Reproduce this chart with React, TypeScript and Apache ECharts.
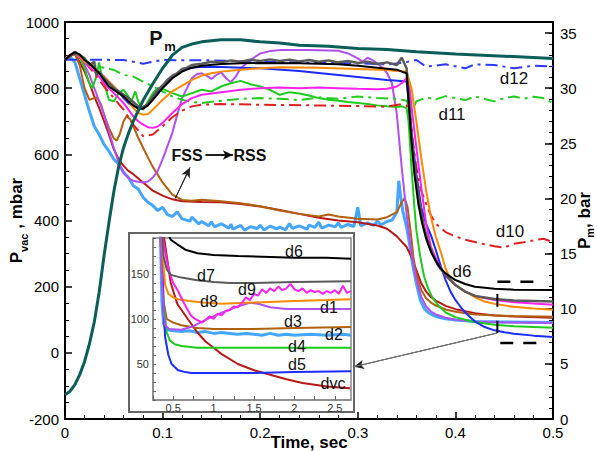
import React, { useEffect, useRef } from 'react';
import * as echarts from 'echarts';

const FONT = 'Liberation Sans, Arial, Helvetica, sans-serif';

// ---- axes ----
const timeRange = [0, 0.5];
const pvacRange = [-200, 1000];
const pmRange = [0, 36];
const insetTimeRange = [0.25, 2.7];
const insetPvacRange = [10, 190];

// ---- main chart: Pm (bar, right axis) ----
const pm = [[0,2.2],[0.005,2.5],[0.01,3.1],[0.015,4.0],[0.02,5.2],[0.025,6.8],[0.03,8.8],[0.035,11.5],[0.04,14.8],[0.045,17.8],[0.05,20.6],[0.055,22.9],[0.06,24.6],[0.065,25.9],[0.07,27.0],[0.08,28.9],[0.09,30.4],[0.1,31.8],[0.11,33.0],[0.12,33.7],[0.13,34.0],[0.14,34.2],[0.16,34.4],[0.18,34.4],[0.2,34.2],[0.22,34.1],[0.24,33.9],[0.27,33.8],[0.3,33.6],[0.33,33.5],[0.36,33.3],[0.4,33.1],[0.45,32.9],[0.5,32.7]];

// ---- main chart: Pvac (mbar) ----
const d12 = [[0,886],[0.03,886],[0.06,885],[0.07,880],[0.08,874],[0.09,880],[0.1,885],[0.15,884],[0.2,880],[0.25,877],[0.3,875],[0.33,872],[0.345,876],[0.36,885],[0.37,865],[0.39,872],[0.41,860],[0.42,872],[0.44,870],[0.46,860],[0.48,868],[0.5,866]];
const d11 = [[0,886],[0.01,905],[0.02,885],[0.03,866],[0.04,862],[0.05,855],[0.06,840],[0.07,835],[0.08,820],[0.09,805],[0.1,790],[0.11,775],[0.12,765],[0.13,758],[0.14,755],[0.16,762],[0.18,768],[0.2,770],[0.22,768],[0.24,764],[0.26,772],[0.28,768],[0.3,775],[0.32,770],[0.34,768],[0.35,762],[0.355,728],[0.36,760],[0.37,772],[0.38,766],[0.39,776],[0.4,770],[0.41,764],[0.42,775],[0.43,767],[0.44,760],[0.45,770],[0.46,775],[0.47,768],[0.48,774],[0.49,770],[0.5,755]];
const d10 = [[0,886],[0.01,905],[0.02,880],[0.03,845],[0.04,805],[0.05,770],[0.06,735],[0.07,690],[0.08,655],[0.09,660],[0.1,685],[0.11,712],[0.12,732],[0.13,745],[0.14,750],[0.16,752],[0.2,750],[0.25,748],[0.3,746],[0.33,744],[0.345,752],[0.35,748],[0.353,730],[0.356,650],[0.36,560],[0.365,490],[0.37,450],[0.375,415],[0.38,390],[0.39,365],[0.4,352],[0.41,342],[0.42,335],[0.43,328],[0.44,322],[0.45,318],[0.46,330],[0.47,334],[0.48,340],[0.49,345],[0.5,335]];
const d6 = [[0,885],[0.005,900],[0.01,908],[0.015,902],[0.02,885],[0.025,875],[0.03,860],[0.035,845],[0.04,825],[0.045,805],[0.05,795],[0.055,785],[0.06,775],[0.065,760],[0.07,748],[0.075,738],[0.08,738],[0.085,748],[0.09,765],[0.1,800],[0.11,830],[0.12,850],[0.13,862],[0.14,868],[0.16,873],[0.18,875],[0.2,876],[0.24,875],[0.28,872],[0.3,868],[0.32,862],[0.34,856],[0.345,850],[0.35,845],[0.352,760],[0.355,640],[0.358,540],[0.362,450],[0.366,390],[0.37,345],[0.375,305],[0.38,278],[0.385,255],[0.39,240],[0.4,220],[0.41,208],[0.42,200],[0.44,194],[0.46,191],[0.5,190]];
const d7 = [[0,885],[0.005,895],[0.01,910],[0.015,900],[0.02,890],[0.025,870],[0.03,880],[0.032,840],[0.035,850],[0.04,830],[0.045,815],[0.05,800],[0.055,790],[0.06,780],[0.065,770],[0.07,758],[0.075,745],[0.08,742],[0.085,752],[0.09,775],[0.095,795],[0.1,808],[0.105,825],[0.11,838],[0.115,845],[0.12,858],[0.125,862],[0.13,870],[0.14,874],[0.15,880],[0.16,878],[0.17,884],[0.18,880],[0.19,886],[0.2,882],[0.21,887],[0.22,882],[0.23,886],[0.24,881],[0.25,885],[0.26,880],[0.27,884],[0.28,878],[0.29,882],[0.3,876],[0.31,880],[0.32,873],[0.33,878],[0.34,870],[0.345,892],[0.35,860],[0.353,740],[0.356,620],[0.36,520],[0.364,440],[0.368,380],[0.372,335],[0.377,295],[0.382,265],[0.39,235],[0.4,205],[0.41,185],[0.42,172],[0.44,163],[0.46,158],[0.5,155]];
const d8 = [[0,885],[0.005,900],[0.01,908],[0.015,898],[0.02,880],[0.03,860],[0.04,835],[0.05,805],[0.06,775],[0.065,760],[0.07,740],[0.075,725],[0.08,720],[0.085,722],[0.09,735],[0.1,765],[0.11,790],[0.12,808],[0.13,825],[0.14,838],[0.15,845],[0.16,850],[0.18,856],[0.2,860],[0.22,863],[0.26,862],[0.3,858],[0.33,855],[0.34,852],[0.345,852],[0.35,850],[0.355,800],[0.36,700],[0.365,590],[0.37,490],[0.375,410],[0.38,350],[0.385,305],[0.39,255],[0.395,222],[0.4,205],[0.41,185],[0.42,168],[0.43,155],[0.44,148],[0.46,139],[0.48,134],[0.5,130]];
const d9 = [[0,885],[0.005,900],[0.01,908],[0.015,895],[0.02,878],[0.025,865],[0.03,852],[0.035,835],[0.04,815],[0.05,785],[0.06,755],[0.065,735],[0.07,715],[0.075,700],[0.08,690],[0.085,682],[0.09,680],[0.095,684],[0.1,695],[0.11,725],[0.12,752],[0.13,770],[0.14,780],[0.16,788],[0.18,795],[0.2,800],[0.22,802],[0.24,800],[0.26,802],[0.28,800],[0.3,798],[0.32,797],[0.33,798],[0.34,805],[0.345,815],[0.35,830],[0.353,800],[0.356,720],[0.36,620],[0.365,500],[0.37,390],[0.375,320],[0.38,285],[0.385,255],[0.39,232],[0.4,205],[0.41,185],[0.42,172],[0.44,160],[0.46,153],[0.48,149],[0.5,145]];
const d1 = [[0,885],[0.005,900],[0.01,905],[0.015,895],[0.02,870],[0.025,840],[0.03,800],[0.035,760],[0.04,720],[0.045,670],[0.05,620],[0.055,575],[0.06,545],[0.065,528],[0.07,520],[0.075,517],[0.08,515],[0.085,518],[0.09,530],[0.095,550],[0.1,585],[0.105,625],[0.11,665],[0.115,720],[0.12,770],[0.125,800],[0.13,830],[0.135,842],[0.14,845],[0.145,838],[0.15,828],[0.155,840],[0.16,848],[0.165,830],[0.17,818],[0.175,835],[0.18,860],[0.19,885],[0.2,905],[0.21,912],[0.22,915],[0.25,915],[0.27,914],[0.28,913],[0.29,905],[0.3,890],[0.305,880],[0.31,892],[0.315,885],[0.32,875],[0.325,862],[0.33,845],[0.335,815],[0.34,720],[0.345,560],[0.35,420],[0.355,300],[0.36,220],[0.365,170],[0.37,140],[0.375,125],[0.38,116],[0.39,106],[0.4,100],[0.42,95],[0.45,92],[0.5,91]];
const d4 = [[0,885],[0.005,900],[0.01,906],[0.015,895],[0.02,860],[0.025,815],[0.028,800],[0.032,835],[0.035,878],[0.037,845],[0.04,815],[0.045,765],[0.05,760],[0.055,785],[0.06,795],[0.065,775],[0.068,760],[0.072,790],[0.075,760],[0.08,735],[0.085,760],[0.09,785],[0.095,800],[0.1,798],[0.11,785],[0.12,775],[0.13,785],[0.14,795],[0.15,790],[0.16,805],[0.17,815],[0.18,822],[0.19,812],[0.2,805],[0.21,795],[0.22,780],[0.23,788],[0.24,784],[0.25,778],[0.26,770],[0.27,765],[0.28,762],[0.29,758],[0.3,755],[0.31,752],[0.32,748],[0.33,745],[0.34,743],[0.345,745],[0.35,740],[0.352,700],[0.355,560],[0.358,440],[0.36,370],[0.364,290],[0.368,230],[0.372,195],[0.376,170],[0.382,145],[0.39,122],[0.4,108],[0.41,100],[0.42,93],[0.44,85],[0.46,80],[0.48,78],[0.5,76]];
const d5 = [[0,885],[0.005,900],[0.01,906],[0.015,898],[0.02,882],[0.03,860],[0.04,835],[0.05,805],[0.055,790],[0.06,770],[0.065,755],[0.07,745],[0.075,742],[0.08,743],[0.085,752],[0.09,775],[0.1,805],[0.11,835],[0.12,855],[0.13,862],[0.14,865],[0.16,864],[0.2,860],[0.24,852],[0.28,840],[0.3,834],[0.33,825],[0.345,822],[0.35,820],[0.353,740],[0.356,640],[0.36,540],[0.365,440],[0.37,390],[0.375,355],[0.38,310],[0.385,262],[0.39,220],[0.395,185],[0.4,160],[0.405,140],[0.41,122],[0.42,95],[0.43,78],[0.44,68],[0.45,62],[0.46,58],[0.48,52],[0.5,48]];
const dvc = [[0,885],[0.005,900],[0.01,903],[0.015,880],[0.02,850],[0.025,815],[0.03,775],[0.035,740],[0.04,700],[0.045,660],[0.05,615],[0.055,585],[0.06,565],[0.065,550],[0.07,540],[0.08,515],[0.09,490],[0.1,475],[0.11,464],[0.12,458],[0.14,456],[0.16,455],[0.18,450],[0.2,442],[0.22,432],[0.24,420],[0.26,408],[0.28,400],[0.3,395],[0.32,385],[0.33,375],[0.34,352],[0.35,320],[0.355,290],[0.36,250],[0.365,210],[0.37,185],[0.375,168],[0.38,158],[0.39,142],[0.4,132],[0.42,120],[0.44,113],[0.46,110],[0.5,106]];
const d3 = [[0,885],[0.005,900],[0.01,905],[0.015,870],[0.02,800],[0.025,765],[0.03,770],[0.033,772],[0.037,750],[0.04,720],[0.045,680],[0.05,648],[0.053,642],[0.056,660],[0.06,700],[0.063,715],[0.067,705],[0.07,685],[0.075,650],[0.08,620],[0.085,590],[0.09,562],[0.1,515],[0.11,478],[0.12,462],[0.13,460],[0.14,463],[0.16,458],[0.18,452],[0.2,443],[0.22,430],[0.24,420],[0.26,412],[0.27,418],[0.28,412],[0.3,405],[0.32,403],[0.33,410],[0.34,425],[0.345,455],[0.348,468],[0.351,440],[0.354,370],[0.357,290],[0.36,235],[0.365,190],[0.37,165],[0.375,152],[0.38,143],[0.39,131],[0.4,124],[0.42,116],[0.46,111],[0.5,109]];
const d2 = [[0,885],[0.005,895],[0.01,880],[0.015,830],[0.02,780],[0.025,730],[0.03,685],[0.035,660],[0.04,630],[0.045,610],[0.05,585],[0.055,570],[0.06,545],[0.065,530],[0.07,505],[0.075,495],[0.08,470],[0.085,455],[0.09,445],[0.095,430],[0.1,440],[0.105,418],[0.11,412],[0.115,426],[0.12,405],[0.128,398],[0.13,410],[0.137,390],[0.14,397],[0.147,384],[0.15,396],[0.153,381],[0.16,390],[0.168,377],[0.17,389],[0.172,374],[0.18,385],[0.184,371],[0.19,381],[0.197,376],[0.2,386],[0.204,371],[0.21,383],[0.217,375],[0.22,380],[0.226,372],[0.23,391],[0.233,376],[0.24,384],[0.248,374],[0.25,386],[0.256,379],[0.26,395],[0.263,377],[0.27,386],[0.277,381],[0.28,393],[0.283,379],[0.29,388],[0.296,382],[0.3,440],[0.303,384],[0.31,393],[0.316,385],[0.32,398],[0.324,387],[0.33,397],[0.335,401],[0.34,425],[0.342,520],[0.344,470],[0.346,430],[0.35,380],[0.353,330],[0.356,270],[0.36,210],[0.364,160],[0.368,135],[0.372,122],[0.378,112],[0.385,106],[0.39,103],[0.4,99],[0.42,95],[0.45,93],[0.5,92]];

// ---- annotation marks (time, mbar) ----
const bandUpper = [[0.443, 215], [0.486, 215]];
const bandLower = [[0.446, 30], [0.489, 30]];
const barUpper = [[0.443, 178], [0.443, 139]];
const barLower = [[0.443, 97], [0.443, 60]];
const insetArrow = [[0.443, 60], [0.296, -42]];
const fssArrow = [[0.113, 467], [0.128, 560]];
const fssRssArrow = [[0.144, 598], [0.172, 598]];

// ---- inset (time in s, mbar) ----
const i6 = [[0.38,250],[0.4,215],[0.42,198],[0.47,188],[0.55,183],[0.65,177],[0.8,173],[1.0,171],[1.3,170],[1.7,169],[2.0,168],[2.4,168],[2.7,167]];
const i7 = [[0.36,200],[0.38,170],[0.42,155],[0.47,149],[0.6,146],[0.8,143],[1.0,141],[1.2,140],[1.5,140],[2.0,141],[2.7,142]];
const i8 = [[0.36,200],[0.38,160],[0.4,138],[0.44,128],[0.5,124],[0.56,122],[0.7,120],[0.9,118],[1.1,117],[1.4,118],[1.7,119],[2.0,120],[2.4,121],[2.7,122]];
const i9 = [[0.36,210],[0.38,185],[0.42,165],[0.46,150],[0.5,140],[0.56,131],[0.62,120],[0.68,110],[0.72,104],[0.77,100],[0.82,98],[0.86,96],[0.9,99],[0.95,103],[1.0,100],[1.05,106],[1.1,104],[1.15,109],[1.2,110],[1.25,114],[1.3,113],[1.35,118],[1.4,124],[1.45,121],[1.5,128],[1.55,126],[1.6,133],[1.65,129],[1.7,134],[1.75,131],[1.8,136],[1.85,132],[1.9,134],[1.95,139],[2.0,133],[2.05,131],[2.1,134],[2.15,129],[2.2,132],[2.25,130],[2.3,131],[2.35,128],[2.4,131],[2.45,129],[2.5,132],[2.55,128],[2.6,137],[2.65,129],[2.7,131]];
const i1 = [[0.34,200],[0.36,150],[0.38,110],[0.4,93],[0.45,89],[0.6,88],[0.75,92],[0.9,99],[1.1,107],[1.3,114],[1.45,118],[1.55,117],[1.7,113],[1.9,111],[2.2,111],[2.7,111]];
const i3 = [[0.34,200],[0.36,150],[0.38,120],[0.42,100],[0.5,96],[0.6,93],[0.8,90],[1.0,89],[1.5,89],[2.0,90],[2.7,91]];
const i2 = [[0.34,200],[0.36,120],[0.38,95],[0.42,88],[0.5,87],[0.6,86],[0.7,87],[0.8,85],[0.9,86],[1.0,84],[1.1,85],[1.2,84],[1.3,83],[1.4,84],[1.5,83],[1.6,82],[1.7,84],[1.8,82],[1.9,83],[2.0,82],[2.2,83],[2.4,82],[2.6,83],[2.7,82]];
const i4 = [[0.36,190],[0.38,120],[0.42,85],[0.46,76],[0.52,72],[0.6,70],[0.8,68],[1.2,68],[2.0,68],[2.7,68]];
const i5 = [[0.36,200],[0.38,110],[0.4,80],[0.44,60],[0.48,50],[0.56,43],[0.65,41],[0.72,40],[1.0,40],[1.5,40],[2.0,41],[2.7,42]];
const ivc = [[0.35,220],[0.38,195],[0.42,170],[0.47,140],[0.55,117],[0.68,100],[0.8,85],[0.9,75],[1.0,68],[1.1,61],[1.3,50],[1.5,43],[1.7,38],[1.9,33],[2.1,29],[2.4,25],[2.69,23]];

const C = {
  pm: '#0b5e58', black: '#000000', gray: '#5a5a5a', orange: '#ff8a00', magenta: '#ff22ee',
  purple: '#b050f0', green: '#1ccc1c', blue: '#1a2cff', dred: '#b81818', brown: '#b0600f',
  lblue: '#45a6ff', rdash: '#e02020', gdash: '#22cc22', bdash: '#2a3aff',
};

const DASHDOT = [12, 5, 3, 5];

function line(data: number[][], color: string, opts: any = {}) {
  const { width = 2, type = 'solid', x = 0, y = 0, z = 2 } = opts;
  return {
    type: 'line', data, xAxisIndex: x, yAxisIndex: y, z,
    showSymbol: false, symbol: 'none', silent: true, animation: false,
    lineStyle: { color, width, type }, itemStyle: { color },
  };
}

function arrow(seg: number[][], color: string, width: number, headColor: string) {
  return {
    type: 'line', data: seg, xAxisIndex: 0, yAxisIndex: 0, z: 20,
    showSymbol: false, symbol: 'none', silent: true, animation: false,
    lineStyle: { color, width }, itemStyle: { color },
    markLine: {
      silent: true, animation: false, symbol: ['none', 'arrow'], symbolSize: [7, 10],
      label: { show: false },
      lineStyle: { color: headColor, width, type: 'solid' },
      data: [[{ coord: seg[0] }, { coord: seg[1] }]],
    },
  };
}

function txt(text: string, x: number, y: number, size = 17, weight = 'normal', extra: any = {}) {
  return {
    type: 'text', x, y, z: 30, silent: true,
    style: { text, fontSize: size, fontWeight: weight, fontFamily: FONT, fill: '#111', align: 'center', verticalAlign: 'middle', ...extra },
  };
}

const richSub = {
  p: { fontSize: 17, fontWeight: 'bold', lineHeight: 26, fontFamily: FONT, color: '#000' },
  s: { fontSize: 11, fontWeight: 'bold', lineHeight: 11, verticalAlign: 'bottom', fontFamily: FONT, color: '#000' },
};
const richSubR = {
  p: { fontSize: 17, fontWeight: 'bold', lineHeight: 21, fontFamily: FONT, color: '#000' },
  s: { fontSize: 11, fontWeight: 'bold', lineHeight: 11, verticalAlign: 'bottom', fontFamily: FONT, color: '#000' },
};

export default function App() {
  const ref = useRef<HTMLDivElement>(null);
  useEffect(() => {
    document.body.style.margin = '0';
    if (!ref.current) return;
    const chart = echarts.init(ref.current, undefined, { renderer: 'svg' });
    const axisBase = {
      axisLine: { show: true, onZero: false, lineStyle: { color: '#000', width: 2 } },
      splitLine: { show: false },
      minorSplitLine: { show: false },
      nameMoveOverlap: false,
    };
    const option: any = {
      animation: false,
      backgroundColor: '#fff',
      textStyle: { fontFamily: FONT },
      grid: [
        { left: 65, right: 44, top: 22, bottom: 32, outerBoundsMode: 'none', containLabel: false, show: true, borderColor: '#000', borderWidth: 2, backgroundColor: 'transparent' },
        { left: 153, right: 246, top: 238, bottom: 51, outerBoundsMode: 'none', containLabel: false, show: true, borderColor: '#888', borderWidth: 1.5, backgroundColor: 'transparent', z: 10 },
      ],
      xAxis: [
        {
          ...axisBase, type: 'value', gridIndex: 0, min: timeRange[0], max: timeRange[1], interval: 0.1,
          axisTick: { show: true, inside: true, length: 7, lineStyle: { color: '#000', width: 1.5 } },
          minorTick: { show: true, splitNumber: 5, length: 4, lineStyle: { color: '#000', width: 1 } },
          axisLabel: { fontSize: 15, color: '#000', margin: 6, fontFamily: FONT, formatter: (v: number) => (v === 0 ? '0' : String(+v.toFixed(1))) },
          name: 'Time, sec', nameLocation: 'middle', nameGap: 15,
          nameTextStyle: { fontSize: 17, fontWeight: 'bold', color: '#000', fontFamily: FONT },
        },
        {
          type: 'value', gridIndex: 1, min: insetTimeRange[0], max: insetTimeRange[1], interval: 0.25, z: 10,
          axisLine: { show: true, onZero: false, lineStyle: { color: '#888', width: 1.5 } },
          splitLine: { show: false },
          axisTick: { show: true, inside: true, length: 4, lineStyle: { color: '#666', width: 1 } },
          axisLabel: {
            fontSize: 11, color: '#333', margin: 2, fontFamily: FONT, showMaxLabel: false,
            formatter: (v: number) => {
              const r = Math.round(v * 2);
              return Math.abs(v * 2 - r) < 1e-6 && v >= 0.5 ? String(+v.toFixed(1)) : '';
            },
          },
        },
      ],
      yAxis: [
        {
          ...axisBase, type: 'value', gridIndex: 0, position: 'left', min: pvacRange[0], max: pvacRange[1], interval: 200,
          axisTick: { show: true, inside: true, length: 7, lineStyle: { color: '#000', width: 1.5 } },
          minorTick: { show: true, splitNumber: 4, length: 4, lineStyle: { color: '#000', width: 1 } },
          axisLabel: { fontSize: 15, color: '#000', margin: 6, fontFamily: FONT, formatter: (v: number) => String(v) },
          name: '{p|P}{s|vac}{p| , mbar}', nameLocation: 'middle', nameGap: 36,
          nameTextStyle: { rich: richSub },
        },
        {
          ...axisBase, type: 'value', gridIndex: 0, position: 'right', min: pmRange[0], max: pmRange[1], interval: 5,
          axisTick: { show: true, inside: true, length: 8, lineStyle: { color: '#000', width: 1.5 } },
          axisLabel: { fontSize: 15, color: '#000', margin: 7, fontFamily: FONT, showMaxLabel: false, formatter: (v: number) => String(v) },
          name: '{p|P}{s|m}{p|, bar}', nameLocation: 'middle', nameGap: 21,
          nameTextStyle: { rich: richSubR },
        },
        {
          ...axisBase, type: 'value', gridIndex: 0, position: 'right', min: pmRange[0], max: pmRange[1], interval: 1,
          axisTick: { show: true, inside: true, length: 4, lineStyle: { color: '#000', width: 1 } },
          axisLabel: { show: false },
        },
        {
          type: 'value', gridIndex: 1, min: insetPvacRange[0], max: insetPvacRange[1], interval: 10, z: 10,
          axisLine: { show: true, onZero: false, lineStyle: { color: '#888', width: 1.5 } },
          splitLine: { show: false },
          axisTick: { show: true, inside: true, length: 3, lineStyle: { color: '#666', width: 1 } },
          axisLabel: { fontSize: 11, color: '#333', margin: 4, fontFamily: FONT, formatter: (v: number) => (Math.round(v) % 50 === 0 ? String(Math.round(v)) : '') },
        },
      ],
      series: [
        line(d2, C.lblue, { width: 3 }),
        line(dvc, C.dred),
        line(d3, C.brown),
        line(d1, C.purple),
        line(d4, C.green),
        line(d11, C.gdash, { type: DASHDOT }),
        line(d10, C.rdash, { type: DASHDOT }),
        line(d12, C.bdash, { type: DASHDOT }),
        line(d5, C.blue),
        line(d9, C.magenta),
        line(d8, C.orange),
        line(d7, C.gray, { width: 2.5 }),
        line(d6, C.black),
        line(pm, C.pm, { width: 3, y: 1 }),
        line(bandUpper, '#000', { width: 2.5, type: [13, 10], z: 20 }),
        line(bandLower, '#000', { width: 2.5, type: [13, 10], z: 20 }),
        line(barUpper, '#000', { width: 2, z: 20 }),
        line(barLower, '#000', { width: 2, z: 20 }),
        arrow(insetArrow, '#777', 1, '#222'),
        arrow(fssArrow, '#222', 1, '#222'),
        arrow(fssRssArrow, '#111', 1.5, '#111'),
        // inset
        line(i2, C.lblue, { width: 3, x: 1, y: 3, z: 12 }),
        line(ivc, C.dred, { x: 1, y: 3, z: 12 }),
        line(i3, C.brown, { x: 1, y: 3, z: 12 }),
        line(i4, C.green, { x: 1, y: 3, z: 12 }),
        line(i5, C.blue, { x: 1, y: 3, z: 12 }),
        line(i1, C.purple, { x: 1, y: 3, z: 12 }),
        line(i8, C.orange, { x: 1, y: 3, z: 12 }),
        line(i9, C.magenta, { x: 1, y: 3, z: 12 }),
        line(i7, C.gray, { x: 1, y: 3, z: 12 }),
        line(i6, C.black, { x: 1, y: 3, z: 12 }),
      ],
      graphic: [
        { type: 'rect', z: 5, silent: true, shape: { x: 129, y: 233, width: 225, height: 179 }, style: { fill: '#fff', stroke: '#666', lineWidth: 2 } },
        txt('P', 156, 38, 20, 'bold'),
        txt('m', 170, 46, 13, 'bold'),
        txt('d12', 514, 78),
        txt('d11', 452, 114),
        txt('d10', 510, 231),
        txt('d6', 462, 271),
        txt('FSS', 187, 155, 16, 'bold'),
        txt('RSS', 250, 155, 16, 'bold'),
        txt('d6', 294, 251, 16),
        txt('d7', 206, 275, 16),
        txt('d8', 209, 301, 16),
        txt('d9', 247, 289, 16),
        txt('d1', 329, 307, 16),
        txt('d3', 293, 321, 16),
        txt('d2', 334, 334, 16),
        txt('d4', 297, 346, 16),
        txt('d5', 297, 364, 16),
        txt('dvc', 333, 383, 16),
      ],
    };
    chart.setOption(option);
    return () => chart.dispose();
  }, []);
  return <div ref={ref} style={{ width: 597, height: 451 }} />;
}
